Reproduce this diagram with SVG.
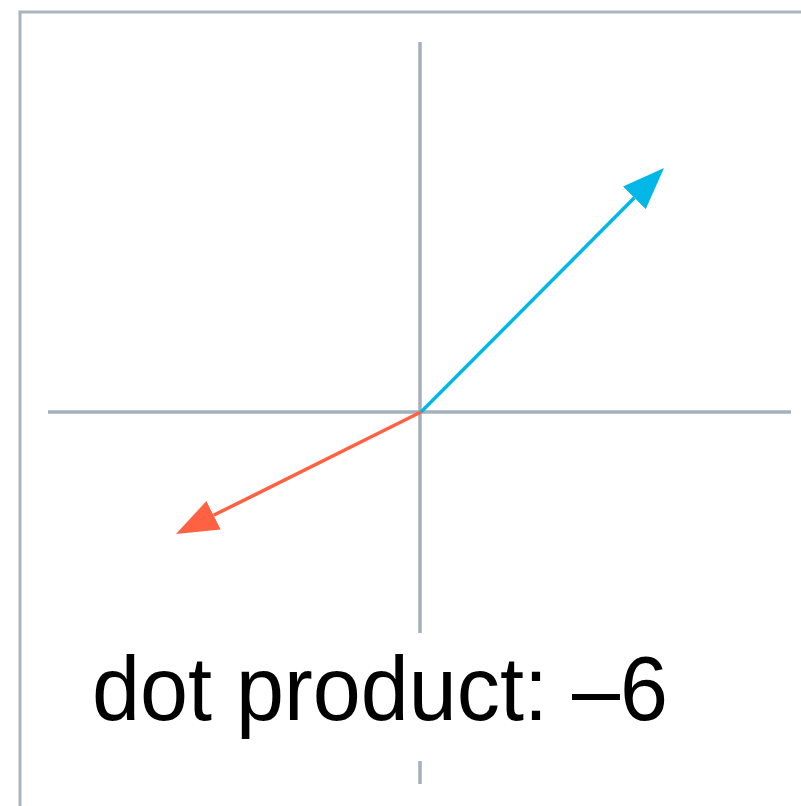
<svg xmlns="http://www.w3.org/2000/svg" width="801" height="806" viewBox="0 0 801 806">
  <style>
    .frame { fill: none; stroke: #A9B4BF; stroke-width: 3; }
    .axis { stroke: #A4B0BC; stroke-width: 3.5; fill: none; }
    .vec { stroke-width: 3.5; fill: none; }
    .label { font-family: "Liberation Sans", Arial, sans-serif; font-size: 90px; fill: #000; }
  </style>
  <defs>
    <marker id="headBlue" viewBox="0 -16 42 32" refX="0" refY="0" markerWidth="42" markerHeight="32" markerUnits="userSpaceOnUse" orient="auto">
      <path d="M0,-16 L42,0 L0,16 z" fill="#00B7E7"/>
    </marker>
    <marker id="headOrange" viewBox="0 -16 42 32" refX="0" refY="0" markerWidth="42" markerHeight="32" markerUnits="userSpaceOnUse" orient="auto">
      <path d="M0,-16 L42,0 L0,16 z" fill="#FF6142"/>
    </marker>
  </defs>
  <rect x="0" y="0" width="801" height="806" fill="#ffffff"/>
  <g id="frame">
    <path class="frame" d="M20,806 L20,12 L801,12"/>
  </g>
  <g id="axes">
    <line class="axis" x1="48" y1="412" x2="791" y2="412"/>
    <line class="axis" x1="420" y1="42" x2="420" y2="784"/>
  </g>
  <g id="connectors">
    <line class="vec" x1="421" y1="412" x2="634.4" y2="197.8" stroke="#00B7E7" marker-end="url(#headBlue)"/>
    <line class="vec" x1="421" y1="412" x2="213.6" y2="515.3" stroke="#FF6142" marker-end="url(#headOrange)"/>
  </g>
  <g id="label">
    <rect x="80" y="633" width="600" height="128" fill="#ffffff"/>
    <text class="label" x="92" y="720" textLength="576" lengthAdjust="spacingAndGlyphs">dot product: –6</text>
  </g>
</svg>
